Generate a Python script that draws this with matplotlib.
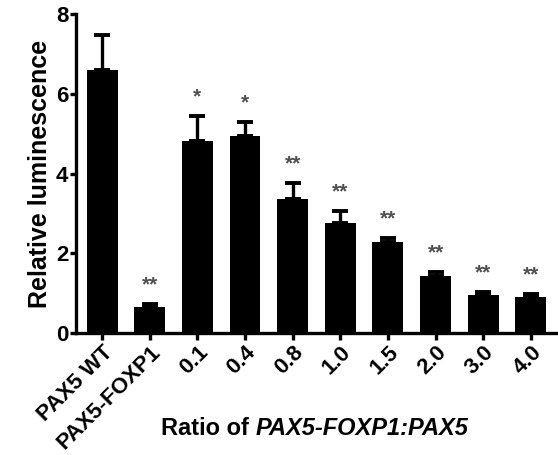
import numpy as np
import matplotlib
matplotlib.use("Agg")
import matplotlib.pyplot as plt

# --- data ---
groups = ["PAX5 WT", "PAX5-FOXP1", "0.1", "0.4", "0.8", "1.0", "1.5", "2.0", "3.0", "4.0"]
means = [6.60, 0.65, 4.81, 4.94, 3.36, 2.76, 2.28, 1.43, 0.95, 0.90]
errors = [0.87, 0.07, 0.63, 0.35, 0.40, 0.30, 0.10, 0.10, 0.08, 0.08]
stars = ["", "**", "*", "*", "**", "**", "**", "**", "**", "**"]

FONT = "Liberation Sans"
plt.rcParams["font.family"] = [FONT, "DejaVu Sans"]
plt.rcParams["font.weight"] = "bold"

fig = plt.figure(figsize=(5.58, 4.55), dpi=100, facecolor="white")
ax = fig.add_axes([0.136, 0.268, 0.864, 0.701])

x = np.arange(len(groups))
ax.bar(x, means, width=0.65, color="black", zorder=2)
ax.errorbar(x, means, yerr=[np.zeros(len(means)), errors], fmt="none",
            ecolor="black", elinewidth=2.4, capsize=5.5, capthick=2.8, zorder=1)

# significance marks above each error bar
for xi, m, e, s in zip(x, means, errors, stars):
    if s:
        ax.text(xi, m + e + 0.48, s, ha="center", va="center",
                fontsize=15, color="#505050", fontweight="bold")

ax.set_xlim(-0.55, 9.57)
ax.set_ylim(0, 8)
ax.set_yticks([0, 2, 4, 6, 8])
ax.set_xticks(x)
ax.set_xticklabels(groups, rotation=45, ha="right", rotation_mode="anchor")

for side in ["top", "right"]:
    ax.spines[side].set_visible(False)
for side in ["left", "bottom"]:
    ax.spines[side].set_linewidth(2.4)

ax.tick_params(axis="y", length=4, width=2.4, pad=1.5, labelsize=16)
ax.tick_params(axis="x", length=5, width=2.4, pad=1, labelsize=16)
for lbl in ax.get_xticklabels() + ax.get_yticklabels():
    lbl.set_fontweight("bold")

ax.set_ylabel("Relative luminescence", fontsize=18, fontweight="bold", labelpad=3)

# x-axis title: plain bold prefix followed by bold italic gene names
renderer = fig.canvas.get_renderer()
fs = 17
t1 = fig.text(0, 0.059, "Ratio of", fontsize=fs, fontweight="bold", va="center")
t2 = fig.text(0, 0.059, "PAX5-FOXP1:PAX5", fontsize=fs, fontweight="bold",
              fontstyle="italic", va="center")
w1 = t1.get_window_extent(renderer).width
w2 = t2.get_window_extent(renderer).width
space = 0.278 * fs * fig.dpi / 72
total = w1 + space + w2
x0 = 315 - total / 2
t1.set_x(x0 / fig.bbox.width)
t2.set_x((x0 + w1 + space) / fig.bbox.width)

fig.savefig("out.png", dpi=100, facecolor="white")
